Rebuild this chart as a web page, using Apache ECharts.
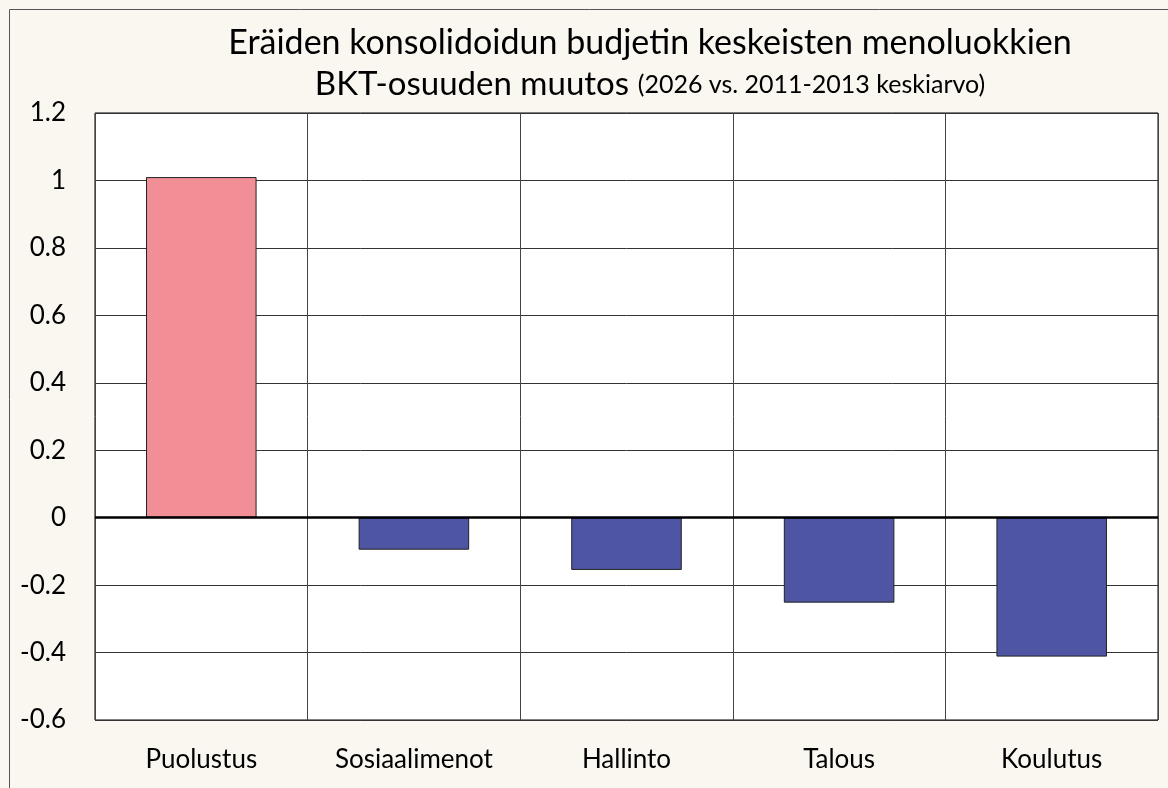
<!DOCTYPE html>
<html lang="fi">
<head>
    <meta charset="UTF-8">
    <title>BKT-osuuden muutos</title>
    <script src="https://cdn.jsdelivr.net/npm/echarts@6/dist/echarts.min.js"></script>
    <style>
        html, body { margin: 0; padding: 0; background: #faf6f0; }
    </style>
</head>
<body>
    <div id="main" style="width: 1168px;height:788px;"></div>
    <script>
        // menoluokat ja muutos (%-yks.)
        var categories = ['Puolustus', 'Sosiaalimenot', 'Hallinto', 'Talous', 'Koulutus'];
        var values = [1.01, -0.095, -0.155, -0.252, -0.412];
        var barColors = ['#f28e96', '#4e56a4', '#4e56a4', '#4e56a4', '#4e56a4'];

        var myChart = echarts.init(document.getElementById('main'));
        var font = 'Lato, "Open Sans", sans-serif';

        var option = {
            backgroundColor: '#faf6f0',
            animation: false,
            title: {
                text: 'Eräiden konsolidoidun budjetin keskeisten menoluokkien\n{big|BKT-osuuden muutos} {small|(2026 vs. 2011-2013 keskiarvo)}',
                left: 645,
                top: 18,
                textAlign: 'center',
                textStyle: {
                    fontFamily: font,
                    fontSize: 34,
                    fontWeight: 'normal',
                    color: '#000',
                    lineHeight: 41,
                    rich: {
                        big: { fontFamily: font, fontSize: 33, color: '#000', lineHeight: 41 },
                        small: { fontFamily: font, fontSize: 25, color: '#000', lineHeight: 41 }
                    }
                }
            },
            graphic: [{
                type: 'rect',
                shape: { x: 9.5, y: 9.5, width: 1300, height: 900 },
                style: { fill: 'none', stroke: '#555', lineWidth: 1 },
                silent: true
            }],
            grid: {
                left: 95,
                right: 10,
                top: 113,
                bottom: 68,
                show: true,
                backgroundColor: '#fff',
                borderColor: '#000',
                borderWidth: 1
            },
            xAxis: {
                type: 'category',
                data: categories,
                axisLine: { show: false },
                axisTick: { show: false },
                splitLine: { show: true, lineStyle: { color: '#444', width: 1 } },
                axisLabel: { fontFamily: font, fontSize: 26, color: '#000', margin: 27 }
            },
            yAxis: {
                type: 'value',
                min: -0.6,
                max: 1.2,
                interval: 0.2,
                axisLine: { show: false },
                axisTick: { show: false },
                splitLine: { lineStyle: { color: '#333', width: 1 } },
                axisLabel: {
                    fontFamily: font, fontSize: 26, color: '#000', margin: 29,
                    formatter: function (v) { return String(Math.round(v * 10) / 10); }
                }
            },
            series: [{
                type: 'bar',
                data: values.map(function (v, i) {
                    return { value: v, itemStyle: { color: barColors[i] } };
                }),
                barWidth: '52%',
                itemStyle: { borderColor: '#222', borderWidth: 1 },
                markLine: {
                    silent: true,
                    symbol: 'none',
                    label: { show: false },
                    lineStyle: { color: '#000', width: 2.5, type: 'solid' },
                    data: [{ yAxis: 0 }]
                }
            }]
        };
        myChart.setOption(option);
    </script>
</body>
</html>
